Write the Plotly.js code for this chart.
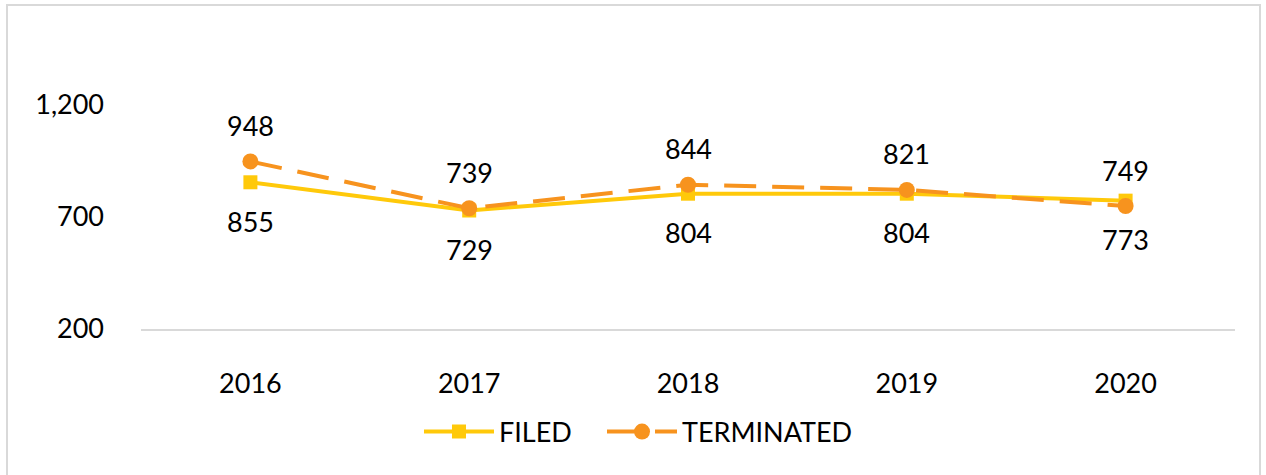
<!DOCTYPE html>
<html>
<head>
<meta charset="utf-8">
<script src="https://cdn.plot.ly/plotly-3.0.1.min.js"></script>
<style>
  html, body { margin: 0; padding: 0; background: #ffffff; }
  #frame { position: absolute; left: 6px; top: 4px; width: 1255px; height: 480px; border: 2px solid #d9d9d9; box-sizing: border-box; }
  #chart { position: absolute; left: 0; top: 0; width: 1266px; height: 475px; }
</style>
</head>
<body>
<div id="frame"></div>
<div id="chart"></div>
<script>
const years = ['2016', '2017', '2018', '2019', '2020'];
const filed = [855, 729, 804, 804, 773];
const terminated = [948, 739, 844, 821, 749];
const yTicks = [200, 700, 1200];

const FONT = 'Lato, "Open Sans", sans-serif';
const filedColor = '#FFC90A';
const termColor = '#F7931E';

const traces = [
  {
    x: years, y: filed, name: 'FILED', type: 'scatter', mode: 'lines+markers',
    line: { color: filedColor, width: 4 },
    marker: { symbol: 'square', size: 14, color: filedColor },
    hoverinfo: 'skip', legend: 'legend'
  },
  {
    x: years, y: terminated, name: 'TERMINATED', type: 'scatter', mode: 'lines+markers',
    line: { color: termColor, width: 4, dash: '32px,16px' },
    marker: { symbol: 'circle', size: 16, color: termColor },
    hoverinfo: 'skip', legend: 'legend2'
  }
];

// category axis: annotations are placed by category index
const annotations = [];
years.forEach((yr, i) => {
  annotations.push({ x: i, y: terminated[i], text: String(terminated[i]), showarrow: false, yshift: 36,
    font: { family: FONT, size: 27, color: '#000000' } });
  annotations.push({ x: i, y: filed[i], text: String(filed[i]), showarrow: false, yshift: -39,
    font: { family: FONT, size: 27, color: '#000000' } });
});

const legendBase = {
  orientation: 'h', xanchor: 'left', y: -0.46, yanchor: 'middle',
  itemwidth: 70, font: { family: FONT, size: 27, color: '#000000' },
  bgcolor: 'rgba(0,0,0,0)', borderwidth: 0
};

const layout = {
  width: 1266, height: 475,
  margin: { l: 141, r: 31, t: 105, b: 146 },
  paper_bgcolor: 'rgba(0,0,0,0)',
  plot_bgcolor: 'rgba(0,0,0,0)',
  font: { family: FONT, size: 27, color: '#000000' },
  showlegend: true,
  legend: Object.assign({}, legendBase, { x: 0.2541 }),
  legend2: Object.assign({}, legendBase, { x: 0.4214 }),
  xaxis: {
    type: 'category', range: [-0.5, 4.5], showgrid: false, zeroline: false,
    showline: true, linecolor: '#d9d9d9', linewidth: 2, ticks: '',
    ticklabelstandoff: 30, tickfont: { family: FONT, size: 27, color: '#000000' },
    fixedrange: true
  },
  yaxis: {
    range: [200, 1200], tickvals: yTicks, tickformat: ',', showgrid: false,
    zeroline: false, showline: false, ticks: '', ticklabelstandoff: 36,
    tickfont: { family: FONT, size: 27, color: '#000000' }, fixedrange: true
  },
  annotations: annotations
};

Plotly.newPlot('chart', traces, layout, { displayModeBar: false, staticPlot: true });
</script>
</body>
</html>
